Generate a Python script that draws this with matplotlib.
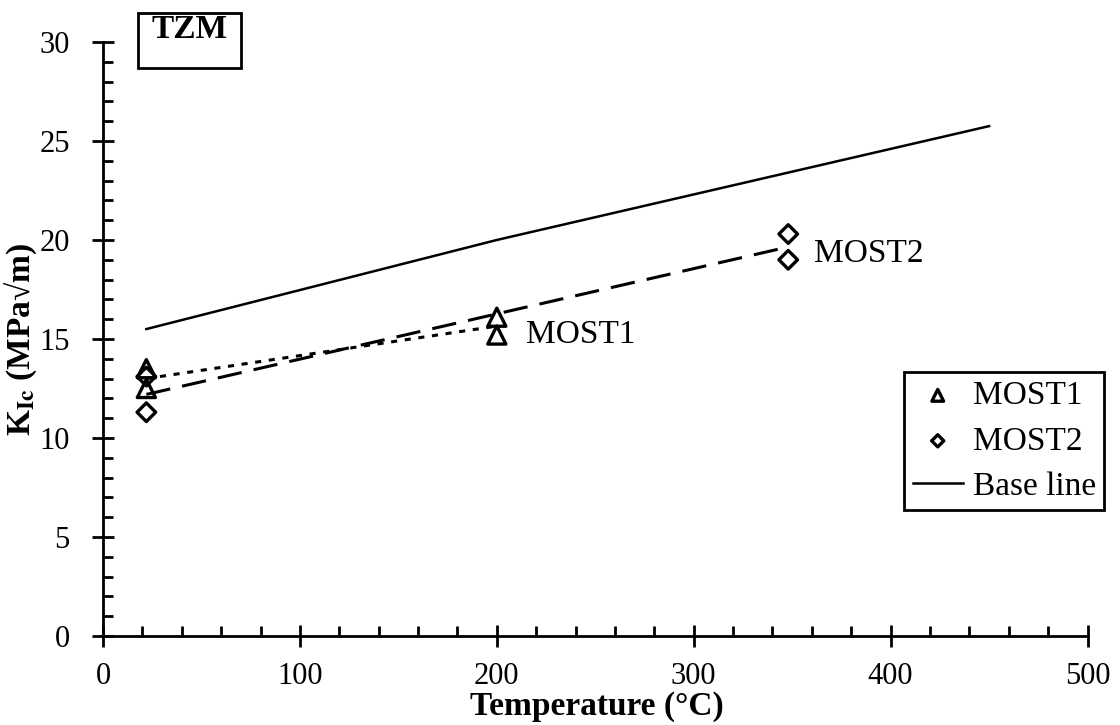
import matplotlib.pyplot as plt
from matplotlib.patches import Rectangle
from matplotlib.ticker import MultipleLocator

plt.rcParams['font.family'] = ['Liberation Serif', 'DejaVu Serif']
plt.rcParams['mathtext.fontset'] = 'stix'

# Fracture toughness measurements (MPa*sqrt(m)) vs temperature (C)
most1_temp = [22, 22, 200, 200]
most1_k = [13.5, 12.5, 16.1, 15.2]
most2_temp = [22, 22, 348, 348]
most2_k = [13.1, 11.3, 20.3, 19.0]

# Trend lines through the mean of each temperature group
most1_fit_temp = [22, 200]
most1_fit_k = [13.0, 15.65]
most2_fit_temp = [22, 348]
most2_fit_k = [12.2, 19.65]

base_temp = [22, 200, 450]
base_k = [15.5, 20.0, 25.75]

fig = plt.figure(figsize=(11.2, 7.25), dpi=100)
ax = fig.add_axes([0.092, 0.1228, 0.879, 0.8193])

ax.plot(most1_fit_temp, most1_fit_k, color='black', lw=2.2, linestyle=(0, (2, 2.5)))
ax.plot(most2_fit_temp, most2_fit_k, color='black', lw=2.2, linestyle=(0, (8, 4)))
base, = ax.plot(base_temp, base_k, color='black', lw=1.8)

tri = ax.scatter(most1_temp, most1_k, marker='^', s=170, facecolors='none',
                 edgecolors='black', linewidths=2.4, zorder=3)
dia = ax.scatter(most2_temp, most2_k, marker='D', s=90, facecolors='none',
                 edgecolors='black', linewidths=2.4, zorder=3)

ax.text(215, 15.2, 'MOST1', fontsize=24, va='center')
ax.text(361, 19.3, 'MOST2', fontsize=24, va='center')

ax.set_xlim(0, 500)
ax.set_ylim(0, 30)
ax.xaxis.set_major_locator(MultipleLocator(100))
ax.xaxis.set_minor_locator(MultipleLocator(20))
ax.yaxis.set_major_locator(MultipleLocator(5))
ax.yaxis.set_minor_locator(MultipleLocator(1))
ax.tick_params(which='major', direction='inout', length=16, width=2, labelsize=22)
ax.tick_params(which='minor', direction='in', length=7, width=2)
ax.tick_params(axis='x', which='major', pad=11)
ax.tick_params(axis='y', which='major', pad=16)

for side in ['top', 'right']:
    ax.spines[side].set_visible(False)
for side in ['left', 'bottom']:
    ax.spines[side].set_linewidth(2)

ax.set_xlabel('Temperature (°C)', fontsize=24, fontweight='bold')
ax.xaxis.set_label_coords(0.502, -0.093)
ax.set_ylabel(r'K$_{\mathbf{Ic}}$ (MPa√m)', fontsize=24, fontweight='bold')
ax.yaxis.set_label_coords(-0.065, 0.5)

# Material tag box above the plot area
fig.patches.append(Rectangle((0.1232, 0.9062), 0.092, 0.0759, transform=fig.transFigure,
                             fill=False, ec='black', lw=2))
fig.text(0.1692, 0.981, 'TZM', fontsize=24, fontweight='bold', va='top', ha='center')

leg = ax.legend([tri, dia, base], ['MOST1', 'MOST2', 'Base line'],
                loc='upper left', bbox_to_anchor=(0.814, 0.444), fontsize=24,
                frameon=True, fancybox=False, edgecolor='black', handlelength=1.5,
                handletextpad=0.3, borderpad=0.25, borderaxespad=0, labelspacing=0.45,
                scatterpoints=1, markerscale=0.65)
leg.get_frame().set_linewidth(2)
leg.get_frame().set_alpha(1)

fig.savefig('out.png', dpi=100)
